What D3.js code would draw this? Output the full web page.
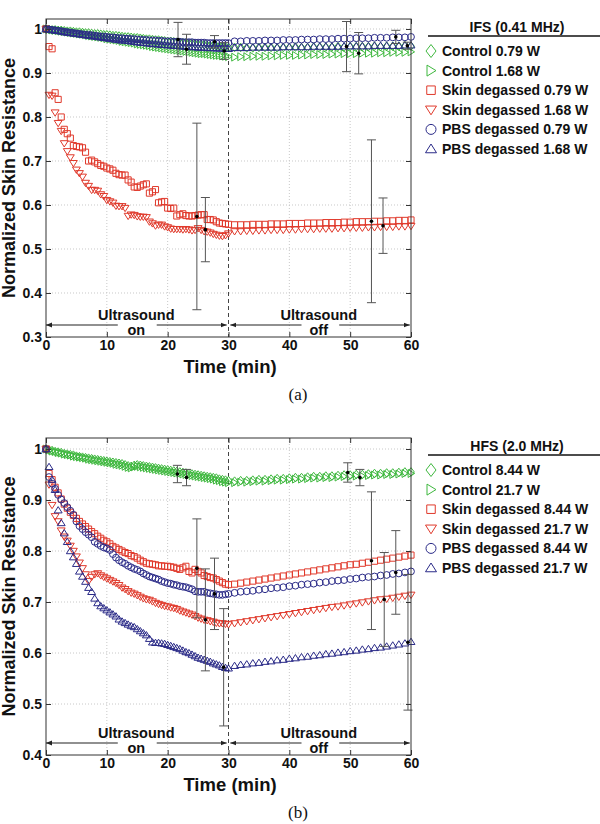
<!DOCTYPE html>
<html>
<head>
<meta charset="utf-8">
<script src="https://cdn.jsdelivr.net/npm/d3@7"></script>
<style>
  body { margin: 0; background: #fff; }
  text { font-family: "Liberation Sans", Arial, sans-serif; font-weight: bold; fill: #111; }
</style>
</head>
<body>
<div id="vis"></div>
<script>
// time grid (min): ultrasound on, then off
const tOn = [0,0.5,1,1.5,2,2.5,3,3.5,4,4.5,5,5.5,6,6.5,7,7.5,8,8.5,9,9.5,
  10,10.5,11,11.5,12,12.5,13,13.5,14,14.5,15,15.5,16,16.5,17,17.5,18,18.5,19,19.5,
  20,20.5,21,21.5,22,22.5,23,23.5,24,24.5,25,25.5,26,26.5,27,27.5,28,28.5,29,29.5,30];
const tOff = [31,32,33,34,35,36,37,38,39,40,41,42,43,44,45,46,47,48,49,50,
  51,52,53,54,55,56,57,58,59,60];

const xTicks = [0,10,20,30,40,50,60];

// ---- (a) IFS 0.41 MHz ----
const aTitle = "IFS (0.41 MHz)";
const aLabels = ["Control 0.79 W","Control 1.68 W","Skin degassed 0.79 W","Skin degassed 1.68 W","PBS degassed 0.79 W","PBS degassed 1.68 W"];
const aYTicks = [0.3,0.4,0.5,0.6,0.7,0.8,0.9,1];

const aCtrl1On = [1.000,0.999,0.998,0.998,0.997,0.997,0.996,0.995,0.995,0.994,
  0.993,0.993,0.992,0.991,0.991,0.990,0.989,0.989,0.988,0.987,
  0.987,0.986,0.985,0.985,0.984,0.983,0.982,0.982,0.981,0.980,
  0.980,0.979,0.978,0.977,0.977,0.976,0.975,0.975,0.974,0.973,
  0.972,0.972,0.971,0.970,0.969,0.969,0.968,0.967,0.967,0.966,
  0.965,0.965,0.964,0.963,0.962,0.962,0.961,0.960,0.960,0.959,0.958];
const aCtrl1Off = [0.958,0.958,0.957,0.957,0.958,0.958,0.958,0.957,0.958,0.958,
  0.959,0.958,0.958,0.959,0.959,0.959,0.959,0.960,0.959,0.960,
  0.960,0.960,0.960,0.961,0.960,0.961,0.961,0.961,0.962,0.961];

const aCtrl2On = [1.000,0.999,0.998,0.997,0.996,0.995,0.994,0.993,0.992,0.991,
  0.990,0.989,0.988,0.987,0.985,0.984,0.983,0.982,0.981,0.980,
  0.978,0.977,0.976,0.975,0.974,0.972,0.971,0.970,0.969,0.968,
  0.966,0.965,0.964,0.963,0.962,0.960,0.959,0.958,0.957,0.956,
  0.955,0.954,0.953,0.952,0.951,0.950,0.949,0.948,0.947,0.946,
  0.945,0.944,0.944,0.943,0.942,0.941,0.940,0.940,0.939,0.938,0.937];
const aCtrl2Off = [0.936,0.937,0.937,0.938,0.938,0.938,0.939,0.939,0.940,0.940,
  0.940,0.941,0.941,0.942,0.942,0.942,0.943,0.943,0.944,0.944,
  0.944,0.945,0.945,0.945,0.946,0.946,0.947,0.947,0.947,0.948];

const aSkin1On = [1.000,0.960,0.955,0.855,0.840,0.800,0.772,0.762,0.752,0.735,
  0.733,0.732,0.730,0.720,0.700,0.702,0.698,0.694,0.690,0.688,
  0.684,0.682,0.679,0.672,0.669,0.668,0.668,0.657,0.652,0.641,
  0.640,0.643,0.646,0.648,0.627,0.630,0.635,0.605,0.607,0.608,
  0.593,0.592,0.593,0.575,0.578,0.580,0.576,0.575,0.575,0.576,
  0.577,0.578,0.578,0.567,0.567,0.566,0.562,0.559,0.558,0.557,0.556];
const aSkin1Off = [0.555,0.555,0.555,0.556,0.556,0.556,0.557,0.557,0.557,0.558,
  0.558,0.558,0.559,0.559,0.559,0.560,0.560,0.560,0.561,0.561,
  0.562,0.562,0.562,0.563,0.563,0.564,0.564,0.565,0.565,0.566];

const aSkin2On = [1.000,0.850,0.848,0.810,0.786,0.768,0.740,0.722,0.708,0.695,
  0.680,0.672,0.664,0.650,0.643,0.634,0.634,0.632,0.624,0.620,
  0.611,0.608,0.605,0.598,0.597,0.597,0.593,0.575,0.578,0.577,
  0.574,0.573,0.573,0.572,0.562,0.558,0.553,0.555,0.555,0.551,
  0.549,0.546,0.545,0.545,0.545,0.544,0.545,0.544,0.542,0.543,
  0.547,0.543,0.540,0.539,0.537,0.534,0.532,0.530,0.529,0.531,0.535];
const aSkin2Off = [0.540,0.540,0.541,0.541,0.542,0.542,0.543,0.543,0.543,0.544,
  0.544,0.545,0.545,0.545,0.546,0.546,0.546,0.547,0.547,0.548,
  0.548,0.548,0.549,0.549,0.550,0.550,0.550,0.551,0.551,0.552];

const aPbs1On = [1.000,0.999,0.998,0.997,0.996,0.995,0.994,0.993,0.992,0.991,
  0.990,0.989,0.988,0.987,0.987,0.986,0.985,0.984,0.983,0.983,
  0.982,0.981,0.981,0.980,0.979,0.979,0.978,0.978,0.977,0.977,
  0.976,0.976,0.975,0.975,0.974,0.974,0.974,0.973,0.973,0.972,
  0.972,0.972,0.971,0.971,0.971,0.970,0.970,0.970,0.970,0.969,
  0.969,0.969,0.969,0.968,0.968,0.968,0.968,0.968,0.968,0.968,0.968];
const aPbs1Off = [0.972,0.972,0.973,0.973,0.973,0.974,0.974,0.974,0.975,0.975,
  0.975,0.976,0.976,0.976,0.977,0.977,0.977,0.978,0.978,0.978,
  0.979,0.979,0.979,0.980,0.980,0.980,0.981,0.981,0.981,0.982];

const aPbs2On = [1.000,0.999,0.998,0.997,0.996,0.995,0.993,0.992,0.991,0.990,
  0.989,0.988,0.987,0.986,0.985,0.984,0.983,0.982,0.981,0.980,
  0.979,0.978,0.977,0.976,0.975,0.974,0.974,0.973,0.972,0.971,
  0.970,0.969,0.969,0.968,0.967,0.966,0.966,0.965,0.964,0.964,
  0.963,0.963,0.962,0.962,0.961,0.961,0.960,0.960,0.959,0.959,
  0.958,0.958,0.958,0.957,0.957,0.957,0.956,0.956,0.956,0.955,0.955];
const aPbs2Off = [0.957,0.957,0.957,0.958,0.958,0.958,0.958,0.958,0.959,0.959,
  0.959,0.959,0.959,0.960,0.960,0.960,0.960,0.960,0.961,0.961,
  0.961,0.961,0.961,0.962,0.962,0.962,0.962,0.962,0.963,0.963];

// error bars (a): time, mean, sd
const aErrT    = [21.7, 23.1, 27.7, 29.3, 49.4, 51.4, 57.5, 59.4, 24.8, 26.2, 53.5, 55.4];
const aErrMean = [0.976,0.954,0.971,0.950,0.960,0.945,0.982,0.962,0.574,0.544,0.563,0.553];
const aErrSd   = [0.039,0.034,0.014,0.019,0.057,0.047,0.015,0.008,0.212,0.073,0.185,0.063];

// ---- (b) HFS 2.0 MHz ----
const bTitle = "HFS (2.0 MHz)";
const bLabels = ["Control 8.44 W","Control 21.7 W","Skin degassed 8.44 W","Skin degassed 21.7 W","PBS degassed 8.44 W","PBS degassed 21.7 W"];
const bYTicks = [0.4,0.5,0.6,0.7,0.8,0.9,1];

const bCtrl1On = [1.000,0.998,0.997,0.995,0.994,0.993,0.991,0.990,0.989,0.988,
  0.986,0.985,0.984,0.983,0.982,0.981,0.980,0.979,0.978,0.977,
  0.976,0.975,0.974,0.973,0.972,0.971,0.969,0.967,0.966,0.968,
  0.969,0.968,0.967,0.966,0.965,0.964,0.963,0.962,0.961,0.960,
  0.959,0.958,0.957,0.956,0.955,0.954,0.953,0.952,0.951,0.950,
  0.949,0.948,0.947,0.946,0.945,0.944,0.943,0.941,0.940,0.939,0.938];
const bCtrl1Off = [0.937,0.938,0.938,0.939,0.940,0.940,0.941,0.942,0.942,0.943,
  0.944,0.944,0.945,0.946,0.946,0.947,0.947,0.948,0.949,0.949,
  0.950,0.950,0.951,0.952,0.952,0.953,0.953,0.954,0.955,0.955];

const bCtrl2On = [1.000,0.998,0.996,0.995,0.993,0.992,0.990,0.989,0.988,0.986,
  0.985,0.984,0.983,0.982,0.980,0.979,0.978,0.977,0.976,0.975,
  0.974,0.973,0.972,0.970,0.969,0.968,0.966,0.964,0.963,0.965,
  0.966,0.965,0.964,0.963,0.962,0.961,0.960,0.959,0.958,0.957,
  0.956,0.955,0.954,0.953,0.952,0.951,0.950,0.949,0.948,0.947,
  0.946,0.945,0.944,0.943,0.942,0.941,0.939,0.938,0.936,0.935,0.934];
const bCtrl2Off = [0.934,0.935,0.935,0.936,0.937,0.937,0.938,0.939,0.939,0.940,
  0.941,0.941,0.942,0.943,0.943,0.944,0.944,0.945,0.946,0.946,
  0.947,0.947,0.948,0.949,0.949,0.950,0.950,0.951,0.952,0.952];

const bSkin1On = [1.000,0.952,0.940,0.925,0.914,0.902,0.892,0.884,0.876,0.870,
  0.864,0.858,0.853,0.848,0.843,0.838,0.834,0.829,0.825,0.821,
  0.818,0.814,0.809,0.806,0.803,0.800,0.797,0.795,0.791,0.789,
  0.786,0.782,0.779,0.776,0.775,0.774,0.773,0.771,0.771,0.770,
  0.770,0.769,0.768,0.766,0.764,0.767,0.770,0.760,0.757,0.764,
  0.760,0.757,0.752,0.750,0.748,0.747,0.744,0.741,0.738,0.735,0.734];
const bSkin1Off = [0.735,0.737,0.739,0.741,0.743,0.745,0.747,0.749,0.751,0.753,
  0.755,0.757,0.759,0.761,0.763,0.765,0.767,0.769,0.771,0.773,
  0.774,0.776,0.778,0.780,0.782,0.784,0.786,0.788,0.790,0.792];

const bSkin2On = [1.000,0.930,0.890,0.868,0.858,0.840,0.828,0.820,0.810,0.800,
  0.789,0.777,0.766,0.754,0.741,0.749,0.754,0.756,0.752,0.749,
  0.746,0.743,0.740,0.737,0.733,0.728,0.725,0.721,0.718,0.716,
  0.713,0.710,0.707,0.705,0.704,0.701,0.698,0.696,0.694,0.692,
  0.691,0.689,0.688,0.686,0.683,0.681,0.679,0.677,0.675,0.672,
  0.669,0.667,0.665,0.664,0.662,0.661,0.659,0.658,0.658,0.657,0.656];
const bSkin2Off = [0.658,0.660,0.662,0.664,0.666,0.668,0.670,0.672,0.674,0.676,
  0.678,0.680,0.682,0.684,0.686,0.688,0.690,0.691,0.693,0.695,
  0.697,0.699,0.701,0.703,0.705,0.706,0.708,0.710,0.712,0.714];

const bPbs1On = [1.000,0.945,0.932,0.922,0.910,0.901,0.894,0.886,0.879,0.871,
  0.858,0.849,0.843,0.837,0.832,0.827,0.818,0.814,0.810,0.807,
  0.805,0.802,0.794,0.787,0.782,0.778,0.775,0.771,0.768,0.765,
  0.763,0.760,0.756,0.753,0.750,0.748,0.746,0.744,0.741,0.739,
  0.737,0.736,0.734,0.733,0.731,0.730,0.729,0.727,0.725,0.721,
  0.720,0.720,0.720,0.718,0.717,0.716,0.715,0.714,0.714,0.715,0.716];
const bPbs1Off = [0.718,0.720,0.721,0.722,0.724,0.725,0.727,0.728,0.729,0.731,
  0.732,0.734,0.735,0.736,0.738,0.739,0.741,0.742,0.743,0.745,
  0.746,0.748,0.749,0.750,0.752,0.753,0.755,0.756,0.758,0.760];

const bPbs2On = [1.000,0.965,0.940,0.920,0.880,0.855,0.835,0.818,0.800,0.788,
  0.775,0.760,0.750,0.740,0.728,0.720,0.707,0.698,0.692,0.688,
  0.684,0.680,0.676,0.672,0.666,0.662,0.659,0.656,0.653,0.651,
  0.647,0.643,0.639,0.635,0.628,0.621,0.620,0.620,0.619,0.618,
  0.616,0.614,0.612,0.610,0.608,0.605,0.602,0.600,0.597,0.594,
  0.591,0.589,0.587,0.585,0.583,0.580,0.578,0.576,0.573,0.571,0.570];
const bPbs2Off = [0.575,0.577,0.578,0.580,0.581,0.583,0.584,0.586,0.587,0.589,
  0.590,0.592,0.593,0.595,0.596,0.598,0.599,0.601,0.602,0.604,
  0.605,0.607,0.608,0.610,0.611,0.613,0.615,0.617,0.619,0.622];

const bErrT    = [21.6, 23.1, 49.6, 51.6, 24.8, 26.2, 27.7, 29.2, 53.5, 55.6, 57.5, 59.5];
const bErrMean = [0.951,0.944,0.954,0.944,0.766,0.665,0.716,0.572,0.781,0.705,0.758,0.621];
const bErrSd   = [0.017,0.016,0.019,0.016,0.097,0.100,0.070,0.115,0.135,0.092,0.082,0.133];

// ---------------------------------------------------------------
const width = 600, height = 824;
const green = "#3fb83f", red = "#e0392b", blue = "#2b2b88";
const shapes = ["diamond","triright","square","tridown","circle","triup"];
const colors = [green, green, red, red, blue, blue];

const svg = d3.select("#vis").append("svg")
  .attr("width", width)
  .attr("height", height);

svg.append("defs").append("marker")
  .attr("id", "arr")
  .attr("viewBox", "0 0 10 10")
  .attr("refX", 10).attr("refY", 5)
  .attr("markerWidth", 5).attr("markerHeight", 5)
  .attr("orient", "auto-start-reverse")
  .append("path").attr("d", "M0,1L10,5L0,9Z").attr("fill", "#222");

function shapePath(kind, s) {
  if (kind == "diamond") return `M0,${-s*1.3}L${s},0L0,${s*1.3}L${-s},0Z`;
  if (kind == "triright") return `M${-s*0.8},${-s*1.1}L${s},0L${-s*0.8},${s*1.1}Z`;
  if (kind == "square") return `M${-s*0.85},${-s*0.85}H${s*0.85}V${s*0.85}H${-s*0.85}Z`;
  if (kind == "tridown") return `M${-s*1.1},${-s*0.75}H${s*1.1}L0,${s}Z`;
  if (kind == "triup") return `M0,${-s}L${s*1.1},${s*0.75}H${-s*1.1}Z`;
  // circle
  return `M${s},0A${s},${s} 0 1,1 ${-s},0A${s},${s} 0 1,1 ${s},0Z`;
}

const panels = [
  { top: 19, bottom: 337, yLo: 0.3, yHi: 1.0227, yTicks: aYTicks,
    series: [[aCtrl1On,aCtrl1Off],[aCtrl2On,aCtrl2Off],[aSkin1On,aSkin1Off],
             [aSkin2On,aSkin2Off],[aPbs1On,aPbs1Off],[aPbs2On,aPbs2Off]],
    errT: aErrT, errM: aErrMean, errS: aErrSd,
    title: aTitle, labels: aLabels, legTop: 32, tag: "(a)", tagY: 400 },
  { top: 438, bottom: 755, yLo: 0.4, yHi: 1.0216, yTicks: bYTicks,
    series: [[bCtrl1On,bCtrl1Off],[bCtrl2On,bCtrl2Off],[bSkin1On,bSkin1Off],
             [bSkin2On,bSkin2Off],[bPbs1On,bPbs1Off],[bPbs2On,bPbs2Off]],
    errT: bErrT, errM: bErrMean, errS: bErrSd,
    title: bTitle, labels: bLabels, legTop: 451, tag: "(b)", tagY: 818 }
];

panels.forEach(p => {
  const x = d3.scaleLinear().domain([0, 60]).range([46, 411]);
  const y = d3.scaleLinear().domain([p.yLo, p.yHi]).range([p.bottom, p.top]);
  const g = svg.append("g");

  // grid
  g.selectAll(".gx").data(xTicks.filter(d => d > 0 && d < 60 && d != 30)).join("line")
    .attr("x1", d => x(d)).attr("x2", d => x(d))
    .attr("y1", p.top).attr("y2", p.bottom)
    .attr("stroke", "#c8c8c8").attr("stroke-dasharray", "1,2");
  g.selectAll(".gy").data(p.yTicks.filter(d => d > p.yLo)).join("line")
    .attr("x1", x(0)).attr("x2", x(60))
    .attr("y1", d => y(d)).attr("y2", d => y(d))
    .attr("stroke", "#c8c8c8").attr("stroke-dasharray", "1,2");

  // ultrasound switch-off line
  g.append("line")
    .attr("x1", x(30)).attr("x2", x(30)).attr("y1", p.top).attr("y2", p.bottom)
    .attr("stroke", "#444").attr("stroke-dasharray", "4,3");

  // markers
  p.series.forEach((s, i) => {
    const pts = tOn.map((t, k) => [t, s[0][k]]).concat(tOff.map((t, k) => [t, s[1][k]]));
    const r = shapes[i] == "circle" ? 3.4 : (shapes[i] == "diamond" ? 3.3 : 3.6);
    g.append("g").selectAll("path").data(pts).join("path")
      .attr("d", shapePath(shapes[i], r))
      .attr("transform", d => `translate(${x(d[0])},${y(d[1])})`)
      .attr("fill", "none").attr("stroke", colors[i]).attr("stroke-width", 1);
  });

  // error bars
  const eb = g.append("g");
  p.errT.forEach((t, i) => {
    const m = p.errM[i], sd = p.errS[i];
    eb.append("line").attr("x1", x(t)).attr("x2", x(t))
      .attr("y1", y(m - sd)).attr("y2", y(m + sd));
    [m - sd, m + sd].forEach(v => {
      eb.append("line").attr("x1", x(t) - 4.5).attr("x2", x(t) + 4.5)
        .attr("y1", y(v)).attr("y2", y(v));
    });
    eb.append("circle").attr("cx", x(t)).attr("cy", y(m)).attr("r", 1.8)
      .attr("fill", "#000").attr("stroke", "none");
  });
  eb.attr("stroke", "#555").attr("stroke-width", 1);

  // axes
  const fmt = d => d == 1 ? "1" : d.toFixed(1);
  const axB = g.append("g").attr("transform", `translate(0,${p.bottom})`)
    .call(d3.axisBottom(x).tickValues(xTicks).tickSize(-5).tickPadding(3).tickFormat(d3.format("d")));
  const axT = g.append("g").attr("transform", `translate(0,${p.top})`)
    .call(d3.axisTop(x).tickValues(xTicks).tickSize(-5).tickFormat(""));
  const axL = g.append("g").attr("transform", `translate(${x(0)},0)`)
    .call(d3.axisLeft(y).tickValues(p.yTicks).tickSize(-5).tickPadding(4).tickFormat(fmt));
  const axR = g.append("g").attr("transform", `translate(${x(60)},0)`)
    .call(d3.axisRight(y).tickValues(p.yTicks).tickSize(-5).tickFormat(""));
  [axB, axT, axL, axR].forEach(a => {
    a.select(".domain").remove();
    a.selectAll("line").attr("stroke", "#333");
    a.selectAll("text").attr("font-size", 14).attr("fill", "#111")
      .attr("font-family", "Liberation Sans, Arial, sans-serif").attr("font-weight", "bold");
  });
  g.append("rect").attr("x", x(0)).attr("y", p.top)
    .attr("width", x(60) - x(0)).attr("height", p.bottom - p.top)
    .attr("fill", "none").attr("stroke", "#333").attr("stroke-width", 1);

  // ultrasound on/off arrows
  const ay = p.bottom - 12;
  [[0, 11.8, true], [18.2, 29.7, false], [30.3, 42.0, true], [48.2, 59.8, false]].forEach(a => {
    const ln = g.append("line").attr("x1", x(a[0])).attr("x2", x(a[1]))
      .attr("y1", ay).attr("y2", ay).attr("stroke", "#222").attr("stroke-width", 1.2);
    if (a[2]) ln.attr("marker-start", "url(#arr)"); else ln.attr("marker-end", "url(#arr)");
  });
  [[15, "on"], [45, "off"]].forEach(a => {
    g.append("text").attr("x", x(a[0]) - 1).attr("y", p.bottom - 17)
      .attr("text-anchor", "middle").attr("font-size", 14.5).text("Ultrasound");
    g.append("text").attr("x", x(a[0]) - 1).attr("y", p.bottom - 2)
      .attr("text-anchor", "middle").attr("font-size", 14.5).text(a[1]);
  });

  // axis labels
  g.append("text").attr("x", 230).attr("y", p.bottom + 36)
    .attr("text-anchor", "middle").attr("font-size", 18.5).text("Time (min)");
  g.append("text")
    .attr("transform", `translate(15,${(p.top + p.bottom) / 2}) rotate(-90)`)
    .attr("text-anchor", "middle").attr("font-size", 18).text("Normalized Skin Resistance");
  g.append("text").attr("x", 298).attr("y", p.tagY).attr("text-anchor", "middle")
    .attr("font-size", 17)
    .style("font-family", "Liberation Serif, Times New Roman, serif").style("font-weight", "normal")
    .text(p.tag);

  // legend
  const lg = g.append("g");
  lg.append("text").attr("x", 517).attr("y", p.legTop).attr("text-anchor", "middle")
    .attr("font-size", 14).text(p.title);
  lg.append("line").attr("x1", 428).attr("x2", 600)
    .attr("y1", p.legTop + 4).attr("y2", p.legTop + 4)
    .attr("stroke", "#111").attr("stroke-width", 1.5);
  p.labels.forEach((lab, i) => {
    const by = p.legTop + 24 + i * 19.6;
    lg.append("path").attr("d", shapePath(shapes[i], 5))
      .attr("transform", `translate(431,${by - 5})`)
      .attr("fill", "none").attr("stroke", colors[i]).attr("stroke-width", 1);
    lg.append("text").attr("x", 442).attr("y", by).attr("font-size", 14).text(lab);
  });
});
</script>
</body>
</html>
